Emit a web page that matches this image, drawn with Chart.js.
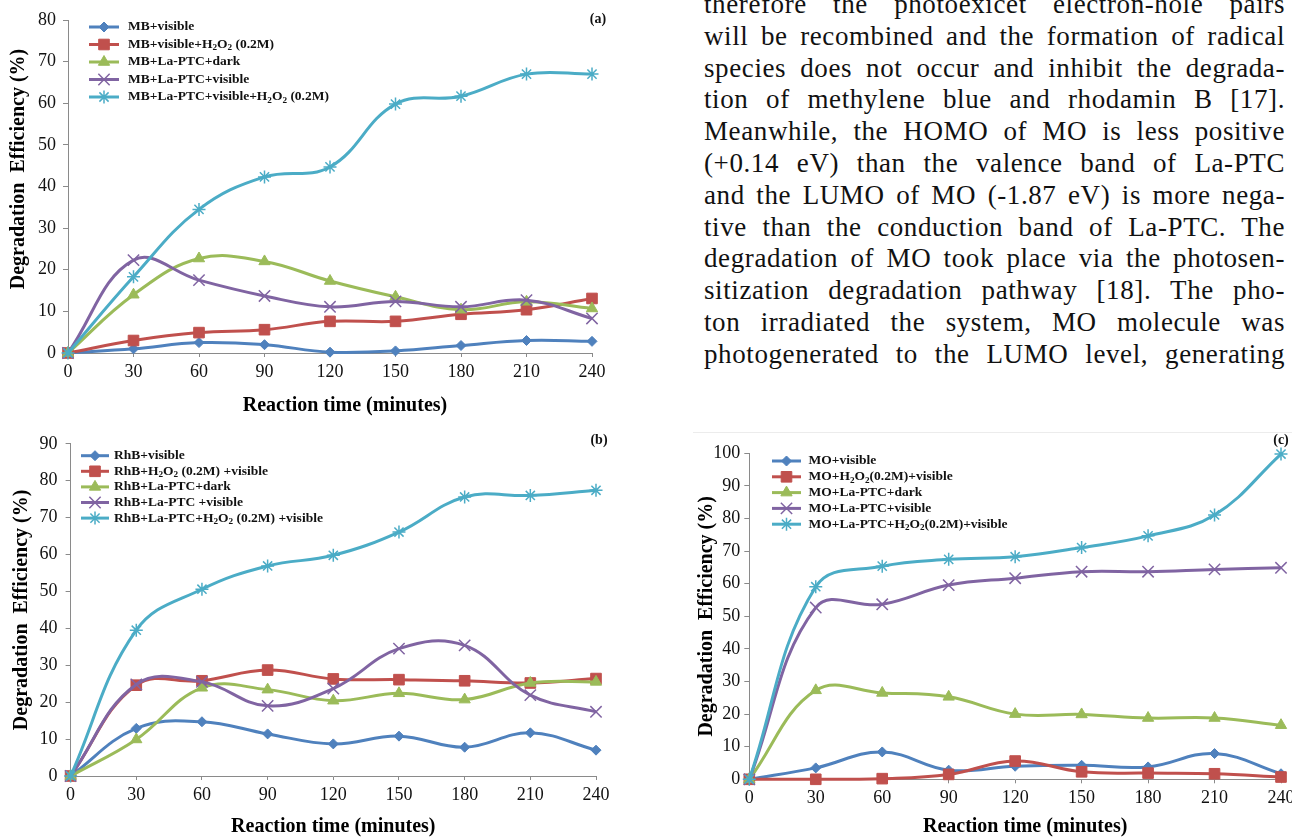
<!DOCTYPE html>
<html>
<head>
<meta charset="utf-8">
<title>Degradation efficiency</title>
<script src="https://cdn.jsdelivr.net/npm/chart.js@4/dist/chart.umd.min.js"></script>
<style>
	html, body { margin:0; padding:0; background:#fff; }
	body { width:1292px; height:838px; overflow:hidden; position:relative; }
	canvas { position:absolute; }
	#text { position:absolute; left:0; top:0; width:1292px; height:400px; color:#111; }
	#text .line { position:absolute; left:704px; line-height:32px; white-space:nowrap; }
	#rule { position:absolute; left:693px; top:432px; width:600px; height:1px; background:#ececec; }
</style>
</head>
<body>
<div id="text"></div>
<div id="rule"></div>
<canvas id="chartA" width="620" height="420" style="left:0;top:0"></canvas>
<canvas id="chartB" width="620" height="414" style="left:0;top:425px"></canvas>
<canvas id="chartC" width="620" height="414" style="left:695px;top:425px"></canvas>
<script>
var minutes = ['0', '30', '60', '90', '120', '150', '180', '210', '240'];

// (a) methylene blue
var mbLabels = ['MB+visible', 'MB+visible+H₂O₂ (0.2M)', 'MB+La-PTC+dark', 'MB+La-PTC+visible', 'MB+La-PTC+visible+H₂O₂ (0.2M)'];
var mbVisible = [0, 1.0, 2.5, 2.0, 0.2, 0.5, 1.8, 3.0, 2.8];
var mbPeroxide = [0, 3.0, 4.9, 5.6, 7.6, 7.6, 9.3, 10.4, 13.1];
var mbDark = [0, 14.0, 22.7, 22.0, 17.3, 13.5, 10.4, 12.3, 10.7];
var mbLaPtc = [0, 22.3, 17.5, 13.7, 11.1, 12.4, 11.1, 12.7, 8.3];
var mbLaPtcPeroxide = [0, 18.3, 34.5, 42.3, 44.7, 59.8, 61.7, 67.0, 67.0];

// (b) rhodamine B
var rhbLabels = ['RhB+visible', 'RhB+H₂O₂ (0.2M) +visible', 'RhB+La-PTC+dark', 'RhB+La-PTC +visible', 'RhB+La-PTC+H₂O₂ (0.2M) +visible'];
var rhbVisible = [0, 12.9, 14.7, 11.4, 8.7, 10.8, 7.8, 11.7, 7.0];
var rhbPeroxide = [0, 24.6, 25.8, 28.7, 26.3, 26.1, 25.8, 25.2, 26.4];
var rhbDark = [0, 9.9, 23.9, 23.4, 20.4, 22.4, 20.7, 25.2, 25.5];
var rhbLaPtc = [0, 24.8, 25.5, 19.0, 23.7, 34.5, 35.4, 21.9, 17.4];
var rhbLaPtcPeroxide = [0, 39.5, 50.6, 56.9, 59.8, 66.1, 75.6, 76.0, 77.4];

// (c) methyl orange
var moLabels = ['MO+visible', 'MO+H₂O₂(0.2M)+visible', 'MO+La-PTC+dark', 'MO+La-PTC+visible', 'MO+La-PTC+H₂O₂(0.2M)+visible'];
var moVisible = [0, 3.5, 8.4, 2.8, 4.0, 4.3, 3.8, 7.9, 1.7];
var moPeroxide = [0, 0, 0.2, 1.5, 5.6, 2.3, 1.9, 1.7, 0.7];
var moDark = [0, 27.3, 26.5, 25.3, 20.0, 19.9, 18.8, 18.8, 16.6];
var moLaPtc = [0, 52.7, 53.7, 59.6, 61.7, 63.7, 63.7, 64.4, 64.9];
var moLaPtcPeroxide = [0, 59.1, 65.4, 67.5, 68.3, 71.1, 74.7, 81.1, 99.8];

var textLines = [
	'therefore the photoexicet electron-hole pairs',
	'will be recombined and the formation of radical',
	'species does not occur and inhibit the degrada-',
	'tion of methylene blue and rhodamin B [17].',
	'Meanwhile, the HOMO of MO is less positive',
	'(+0.14 eV) than the valence band of La-PTC',
	'and the LUMO of MO (-1.87 eV) is more nega-',
	'tive than the conduction band of La-PTC. The',
	'degradation of MO took place via the photosen-',
	'sitization degradation pathway [18]. The pho-',
	'ton irradiated the system, MO molecule was',
	'photogenerated to the LUMO level, generating'
];

var SERIF = "'Liberation Serif', 'Times New Roman', serif";
var AXIS = '#8a8a8a';
var COLORS = ['#4F81BD', '#C0504D', '#9BBB59', '#8064A2', '#4BACC6'];
var MARKERS = ['rectRot', 'rect', 'triangle', 'crossRot', 'star'];
var RADII = [5, 7.5, 6.5, 8, 6.5];

var fig = {
	init : function(){
		fig.layText();
		fig.draw('chartA', mbLabels, [mbVisible, mbPeroxide, mbDark, mbLaPtc, mbLaPtcPeroxide], {
			yMax : 80, padding : {left:0, top:20, right:28, bottom:0},
			yWidth : 68, xHeight : 67, yTickPad : 7,
			yTitle : '       Degradation  Efficiency (%)', yTitlePad : 6.7,
			xTitle : '      Reaction time (minutes)', xTitlePad : 2,
			legend : {x1:89, x2:119, tx:128, top:27, step:17.5, size:13.5},
			tag : {text:'(a)', x:598, y:19}
		});
		fig.draw('chartB', rhbLabels, [rhbVisible, rhbPeroxide, rhbDark, rhbLaPtc, rhbLaPtcPeroxide], {
			yMax : 90, padding : {left:0, top:18.3, right:24, bottom:0},
			yWidth : 70.6, xHeight : 63, yTickPad : 8,
			yTitle : 'Degradation  Efficiency (%)', yTitlePad : 9.8,
			xTitle : 'Reaction time (minutes)', xTitlePad : 0,
			legend : {x1:81, x2:109, tx:114, top:30.7, step:15.6, size:13.5},
			tag : {text:'(b)', x:599, y:15.7}
		});
		fig.draw('chartC', moLabels, [moVisible, moPeroxide, moDark, moLaPtc, moLaPtcPeroxide], {
			yMax : 100, padding : {left:0, top:28.4, right:34, bottom:0},
			yWidth : 54.3, xHeight : 59.7, yTickPad : 4,
			yTitle : 'Degradation  Efficiency (%)', yTitlePad : 0,
			xTitle : '    Reaction time (minutes)', xTitlePad : 0,
			legend : {x1:77, x2:106, tx:113.5, top:36, step:15.8, size:13.5},
			tag : {text:'(c)', x:586, y:15.7}
		});
	},
	layText : function(){
		var box = document.getElementById('text');
		var width = 1285 - 704;
		for(var i = 0; i < textLines.length; i++){
			var div = document.createElement('div');
			div.className = 'line';
			div.style.fontFamily = SERIF;
			div.style.fontSize = '27px';
			var span = document.createElement('span');
			span.style.fontFamily = SERIF;
			span.style.letterSpacing = '0.6px';
			span.textContent = textLines[i];
			var probe = document.createElement('span');
			probe.style.display = 'inline-block';
			probe.style.height = '0px';
			probe.style.verticalAlign = 'baseline';
			div.appendChild(span);
			div.appendChild(probe);
			box.appendChild(div);
			var w = span.getBoundingClientRect().width;
			var gaps = textLines[i].split(' ').length - 1;
			if(w > width){
				span.style.letterSpacing = (0.6 + (width - w) / textLines[i].length) + 'px';
				w = span.getBoundingClientRect().width;
			}
			if(w < width && gaps > 0){
				span.style.wordSpacing = ((width - w) / gaps) + 'px';
			}
			var baseline = 13 + i * 31.8;
			div.style.top = (baseline - probe.offsetTop) + 'px';
		}
	},
	series : function(labels, values){
		var sets = [];
		for(var i = 0; i < values.length; i++){
			sets.push({
				label : labels[i],
				data : values[i],
				borderColor : COLORS[i],
				backgroundColor : COLORS[i],
				pointBackgroundColor : COLORS[i],
				pointBorderColor : COLORS[i],
				pointStyle : MARKERS[i],
				pointRadius : RADII[i],
				pointBorderWidth : i >= 3 ? 1.5 : 1,
				borderWidth : 3,
				tension : 0.4,
				clip : false,
				order : 4 - i
			});
		}
		return sets;
	},
	richText : function(ctx, text, x, y, size){
		var parts = text.split(/(₂)/);
		ctx.textBaseline = 'middle';
		ctx.textAlign = 'left';
		ctx.fillStyle = '#111';
		for(var i = 0; i < parts.length; i++){
			if(parts[i] === '₂'){
				ctx.font = 'bold ' + (size * 0.68) + 'px ' + SERIF;
				ctx.fillText('2', x, y + size * 0.25);
				x += ctx.measureText('2').width;
			}else if(parts[i]){
				ctx.font = 'bold ' + size + 'px ' + SERIF;
				ctx.fillText(parts[i], x, y);
				x += ctx.measureText(parts[i]).width;
			}
		}
	},
	legendPlugin : {
		id : 'figLegend',
		afterDraw : function(chart, args, opts){
			var ctx = chart.ctx;
			var lg = opts.legend;
			ctx.save();
			chart.data.datasets.forEach(function(ds, i){
				var y = lg.top + i * lg.step;
				ctx.strokeStyle = ds.borderColor;
				ctx.lineWidth = 3;
				ctx.beginPath();
				ctx.moveTo(lg.x1, y);
				ctx.lineTo(lg.x2, y);
				ctx.stroke();
				ctx.fillStyle = ds.pointBackgroundColor;
				ctx.strokeStyle = ds.pointBorderColor;
				ctx.lineWidth = ds.pointBorderWidth;
				Chart.helpers.drawPoint(ctx, {pointStyle:ds.pointStyle, radius:ds.pointRadius, rotation:0, borderWidth:ds.pointBorderWidth}, (lg.x1 + lg.x2) / 2, y);
				fig.richText(ctx, ds.label, lg.tx, y, lg.size);
			});
			ctx.font = 'bold 14px ' + SERIF;
			ctx.textAlign = 'center';
			ctx.textBaseline = 'middle';
			ctx.fillStyle = '#111';
			ctx.fillText(opts.tag.text, opts.tag.x, opts.tag.y);
			ctx.restore();
		}
	},
	draw : function(id, labels, values, cfg){
		new Chart(document.getElementById(id), {
			type : 'line',
			data : {labels : minutes, datasets : fig.series(labels, values)},
			plugins : [fig.legendPlugin],
			options : {
				responsive : false,
				animation : false,
				layout : {padding : cfg.padding},
				plugins : {
					legend : {display : false},
					tooltip : {enabled : false},
					figLegend : {legend : cfg.legend, tag : cfg.tag}
				},
				scales : {
					x : {
						type : 'category',
						offset : false,
						grid : {drawOnChartArea : false, drawTicks : true, tickLength : 4, color : AXIS},
						border : {display : true, color : AXIS, width : 1},
						ticks : {font : {family : SERIF, size : 18}, color : '#111', padding : 4, maxRotation : 0, autoSkip : false},
						title : {display : true, text : cfg.xTitle, color : '#000', font : {family : SERIF, size : 20, weight : 'bold'}, padding : {top : 0, bottom : cfg.xTitlePad}},
						afterFit : function(s){ s.height = cfg.xHeight; }
					},
					y : {
						min : 0,
						max : cfg.yMax,
						grid : {drawOnChartArea : false, drawTicks : true, tickLength : 5, color : AXIS},
						border : {display : true, color : AXIS, width : 1},
						ticks : {stepSize : 10, font : {family : SERIF, size : 18}, color : '#111', padding : cfg.yTickPad},
						title : {display : true, text : cfg.yTitle, color : '#000', font : {family : SERIF, size : 20, weight : 'bold'}, padding : {top : cfg.yTitlePad, bottom : 0}},
						afterFit : function(s){ s.width = cfg.yWidth; }
					}
				}
			}
		});
	}
};
fig.init();
</script>
</body>
</html>
